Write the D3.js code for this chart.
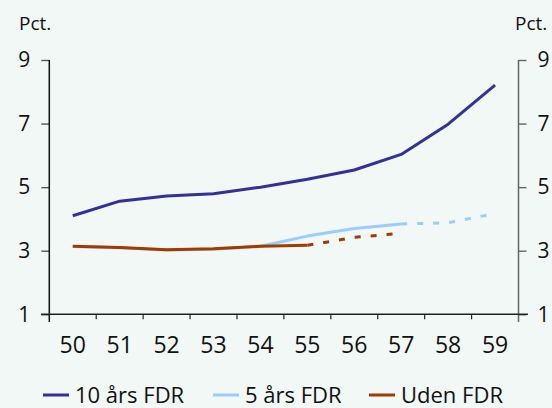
<!DOCTYPE html>
<html>
<head>
<meta charset="utf-8">
<script src="https://cdn.jsdelivr.net/npm/d3@7"></script>
<style>
  html, body { margin: 0; padding: 0; background: #f1f8f5; }
  svg { display: block; font-family: "Open Sans", sans-serif; }
</style>
</head>
<body>
<svg id="chart" width="552" height="408"></svg>
<script>
// x categories (year labels)
const years = ["50", "51", "52", "53", "54", "55", "56", "57", "58", "59"];
// series values, pct.
const tiAarsFdr = [4.10, 4.56, 4.72, 4.79, 5.00, 5.25, 5.54, 6.03, 6.98, 8.21];
const femAarsFdr = [3.13, 3.09, 3.02, 3.05, 3.14, 3.46, 3.70, 3.84, 3.88, 4.17];
const udenFdr = [3.14, 3.10, 3.03, 3.06, 3.14, 3.17, 3.42, 3.55, null, null];
// index where each series turns dashed (forecast)
const femAarsDashFrom = 7;
const udenDashFrom = 5;
const yTicks = [1, 3, 5, 7, 9];
const legendLabels = ["10 års FDR", "5 års FDR", "Uden FDR"];

const colors = ["#33309a", "#99ccff", "#a33a00"];

const svg = d3.select("svg#chart");

const x = d3.scaleBand().domain(years).range([49.3, 518.5]).padding(0);
const y = d3.scaleLinear().domain([1, 9]).range([314.3, 60]);
const cx = d => x(d) + x.bandwidth() / 2;

// ===== AXES =====
const leftAxis = d3.axisLeft(y).tickValues(yTicks).tickSize(8).tickPadding(11).tickSizeOuter(0);
const gl = svg.append("g").attr("transform", "translate(49.3,0)").call(leftAxis);
gl.select(".domain").remove();
gl.selectAll(".tick line").attr("stroke", "#555").attr("stroke-width", 1.4);
gl.selectAll("text").attr("font-size", 21).attr("fill", "#111").attr("font-family", "Open Sans");

const rightAxis = d3.axisRight(y).tickValues(yTicks).tickSize(8).tickPadding(11).tickSizeOuter(0);
const gr = svg.append("g").attr("transform", "translate(518.5,0)").call(rightAxis);
gr.select(".domain").remove();
gr.selectAll(".tick line").attr("stroke", "#666").attr("stroke-width", 1.4);
gr.selectAll("text").attr("font-size", 21).attr("fill", "#111").attr("font-family", "Open Sans");

// vertical axis lines
svg.append("line").attr("x1", 49.3).attr("x2", 49.3).attr("y1", y(9)).attr("y2", 322)
    .attr("stroke", "#111").attr("stroke-width", 1.5);
svg.append("line").attr("x1", 518.5).attr("x2", 518.5).attr("y1", y(9)).attr("y2", 322)
    .attr("stroke", "#666").attr("stroke-width", 1.5);

// bottom axis line + ticks at category boundaries
svg.append("line").attr("x1", 41).attr("x2", 528).attr("y1", y(1)).attr("y2", y(1))
    .attr("stroke", "#222").attr("stroke-width", 1.4);
svg.selectAll("line.xtick")
    .data(years.slice(1))
    .join("line")
    .attr("class", "xtick")
    .attr("x1", d => x(d)).attr("x2", d => x(d))
    .attr("y1", y(1)).attr("y2", y(1) + 5)
    .attr("stroke", "#222").attr("stroke-width", 1.2);

const bottomAxis = d3.axisBottom(x).tickSize(0).tickPadding(22);
const gb = svg.append("g").attr("transform", `translate(0,${y(1)})`).call(bottomAxis);
gb.select(".domain").remove();
gb.selectAll("text").attr("font-size", 23).attr("fill", "#111").attr("font-family", "Open Sans");

// unit labels
svg.append("text").attr("x", 19).attr("y", 30).text("Pct.")
    .attr("font-size", 19).attr("fill", "#111");
svg.append("text").attr("x", 515).attr("y", 30).text("Pct.")
    .attr("font-size", 19).attr("fill", "#111");

// ===== LINES =====
const gen_line = d3.line()
    .defined(d => d.v !== null)
    .x(d => cx(d.year))
    .y(d => y(d.v));

function pts(values, from, to) {
    return values.map((v, i) => ({ year: years[i], v: v })).slice(from, to);
}

function drawLine(data, color, dashed) {
    svg.append("path")
        .attr("d", gen_line(data))
        .attr("fill", "none")
        .attr("stroke", color)
        .attr("stroke-width", 3)
        .attr("stroke-linejoin", "round")
        .attr("stroke-dasharray", dashed ? "6,10" : null);
}

drawLine(pts(tiAarsFdr, 0, years.length), colors[0], false);
drawLine(pts(femAarsFdr, 0, femAarsDashFrom + 1), colors[1], false);
drawLine(pts(femAarsFdr, femAarsDashFrom, years.length), colors[1], true);
drawLine(pts(udenFdr, 0, udenDashFrom + 1), colors[2], false);
drawLine(pts(udenFdr, udenDashFrom, 8), colors[2], true);

// ===== LEGEND =====
const legendX = [43, 213, 369];
const leg = svg.selectAll("g.legend")
    .data(legendLabels)
    .join("g")
    .attr("class", "legend")
    .attr("transform", (d, i) => `translate(${legendX[i]},395)`);
leg.append("line")
    .attr("x1", 0).attr("x2", 26).attr("y1", 0).attr("y2", 0)
    .attr("stroke", (d, i) => colors[i]).attr("stroke-width", 3);
leg.append("text")
    .attr("x", 32).attr("y", 7.5)
    .attr("font-size", 22).attr("fill", "#111")
    .text(d => d);
</script>
</body>
</html>
